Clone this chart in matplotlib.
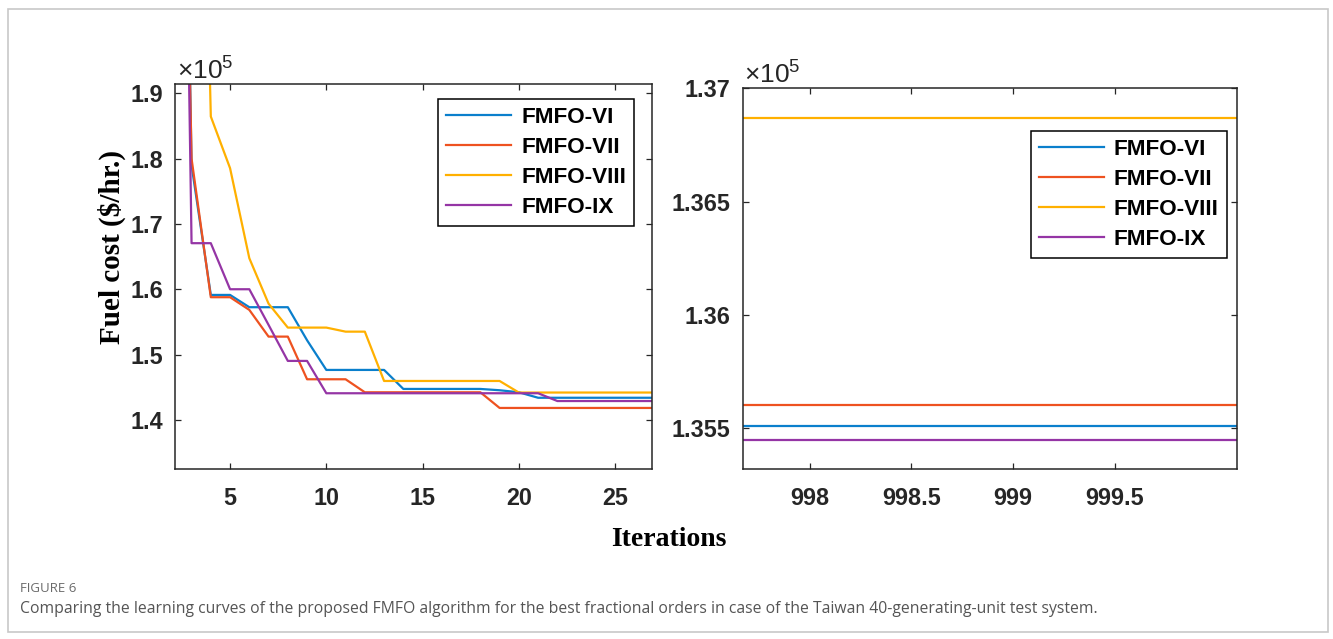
import matplotlib
matplotlib.use("Agg")
import matplotlib.pyplot as plt
from matplotlib.patches import Rectangle

# ---- data: best fuel cost ($/hr) per iteration ----
series_names = ["FMFO-VI", "FMFO-VII", "FMFO-VIII", "FMFO-IX"]
series_colors = ["#0A7FCC", "#EE5220", "#FFB000", "#9535A5"]

early_iters = list(range(1, 28))
cost_vi = [460000, 350000, 179000, 159140, 159140, 157260, 157260, 157260, 152200,
           147660, 147660, 147660, 147660, 144750, 144750, 144750, 144750, 144750,
           144550, 144240, 143400, 143400, 143400, 143400, 143400, 143400, 143400]
cost_vii = [440000, 330000, 180000, 158790, 158790, 156850, 152760, 152760, 146230,
            146230, 146230, 144240, 144240, 144240, 144240, 144240, 144240, 144240,
            141840, 141840, 141840, 141840, 141840, 141840, 141840, 141840, 141840]
cost_viii = [500000, 400000, 310000, 186450, 178540, 164760, 157800, 154140, 154140,
             154140, 153520, 153520, 145970, 145970, 145970, 145970, 145970, 145970,
             145970, 144200, 144200, 144200, 144200, 144200, 144200, 144200, 144200]
cost_ix = [480000, 360000, 167060, 167060, 160010, 160010, 154550, 149040, 149040,
           144090, 144090, 144090, 144090, 144090, 144090, 144090, 144090, 144090,
           144090, 144090, 144090, 142900, 142900, 142900, 142900, 142900, 142900]

late_iters = [997, 998, 999, 1000, 1001]
final_cost = [135512, 135604, 136868, 135449]  # VI, VII, VIII, IX

SCALE = 1e5

left_xticks = [5, 10, 15, 20, 25]
left_yticks = [1.4, 1.5, 1.6, 1.7, 1.8, 1.9]
left_ytick_labels = ["1.4", "1.5", "1.6", "1.7", "1.8", "1.9"]
right_xticks = [998, 998.5, 999, 999.5]
right_xtick_labels = ["998", "998.5", "999", "999.5"]
right_yticks = [1.355, 1.36, 1.365, 1.37]
right_ytick_labels = ["1.355", "1.36", "1.365", "1.37"]

# ---- figure ----
W, H = 1333, 639
fig = plt.figure(figsize=(W / 100, H / 100), dpi=100)
plt.rcParams["font.family"] = ["Liberation Sans", "DejaVu Sans"]

def fx(px):
    return px / W

def fy(py):
    return 1 - py / H

ax1 = fig.add_axes([fx(175), fy(469.3), fx(651.7) - fx(175), fy(84.3) - fy(469.3)])
ax2 = fig.add_axes([fx(742.5), fy(469.3), fx(1236.7) - fx(742.5), fy(88.3) - fy(469.3)])

early = [cost_vi, cost_vii, cost_viii, cost_ix]
for name, color, vals in zip(series_names, series_colors, early):
    ax1.plot(early_iters, [v / SCALE for v in vals], color=color, lw=1.6, label=name)

for name, color, val in zip(series_names, series_colors, final_cost):
    ax2.plot(late_iters, [val / SCALE] * len(late_iters), color=color, lw=1.6, label=name)

ax1.set_xlim(2.14, 26.9)
ax1.set_ylim(1.3245, 1.9138)
ax2.set_xlim(997.67, 1000.1)
ax2.set_ylim(1.3532, 1.37)

ink = "#262626"
for ax in (ax1, ax2):
    for s in ax.spines.values():
        s.set_color(ink)
        s.set_linewidth(1.1)
    ax.tick_params(direction="in", length=4, width=0.9, top=True, right=True,
                   colors=ink, labelsize=16.8)
    ax.tick_params(axis="x", pad=12.5)
    ax.tick_params(axis="y", pad=8.5)

ax1.set_xticks(left_xticks, [str(t) for t in left_xticks], fontweight="bold")
ax1.set_yticks(left_yticks, left_ytick_labels, fontweight="bold")
ax2.set_xticks(right_xticks, right_xtick_labels, fontweight="bold")
ax2.set_yticks(right_yticks, right_ytick_labels, fontweight="bold")

for ax in (ax1, ax2):
    ax.text(0.004, 1.0, r"$\mathregular{\times10^5}$", transform=ax.transAxes,
            ha="left", va="bottom", fontsize=19, color=ink)

leg_kw = dict(loc="upper left", bbox_transform=fig.transFigure, borderaxespad=0,
              fancybox=False, framealpha=1, edgecolor="black",
              prop={"weight": "bold", "size": 16.2}, handlelength=2.9,
              handletextpad=0.45, labelspacing=0.4, borderpad=0.36)
l1 = ax1.legend(bbox_to_anchor=(fx(438), fy(98.5)), **leg_kw)
l2 = ax2.legend(bbox_to_anchor=(fx(1030.5), fy(131)), **leg_kw)
for leg in (l1, l2):
    leg.get_frame().set_linewidth(1.1)

fig.text(fx(112), fy(247), "Fuel cost ($/hr.)", rotation=90, ha="center", va="center",
         fontsize=21, fontweight="bold", family="Liberation Serif", color="black")
fig.text(fx(669), fy(540), "Iterations", ha="center", va="center",
         fontsize=20, fontweight="bold", family="Liberation Serif", color="black")

fig.text(fx(20), fy(588), "FIGURE 6", ha="left", va="center", fontsize=9.5,
         family="Open Sans", color="#6a6a6a")
fig.text(fx(20), fy(609),
         "Comparing the learning curves of the proposed FMFO algorithm for the best fractional "
         "orders in case of the Taiwan 40-generating-unit test system.",
         ha="left", va="center", fontsize=11.35, family="Open Sans", color="#555555")

fig.patches.append(Rectangle((fx(8), fy(632)), fx(1328) - fx(8), fy(9) - fy(632),
                             transform=fig.transFigure, fill=False,
                             edgecolor="#c8c8c8", linewidth=1.2))

fig.savefig("out.png", dpi=100, facecolor="white")
